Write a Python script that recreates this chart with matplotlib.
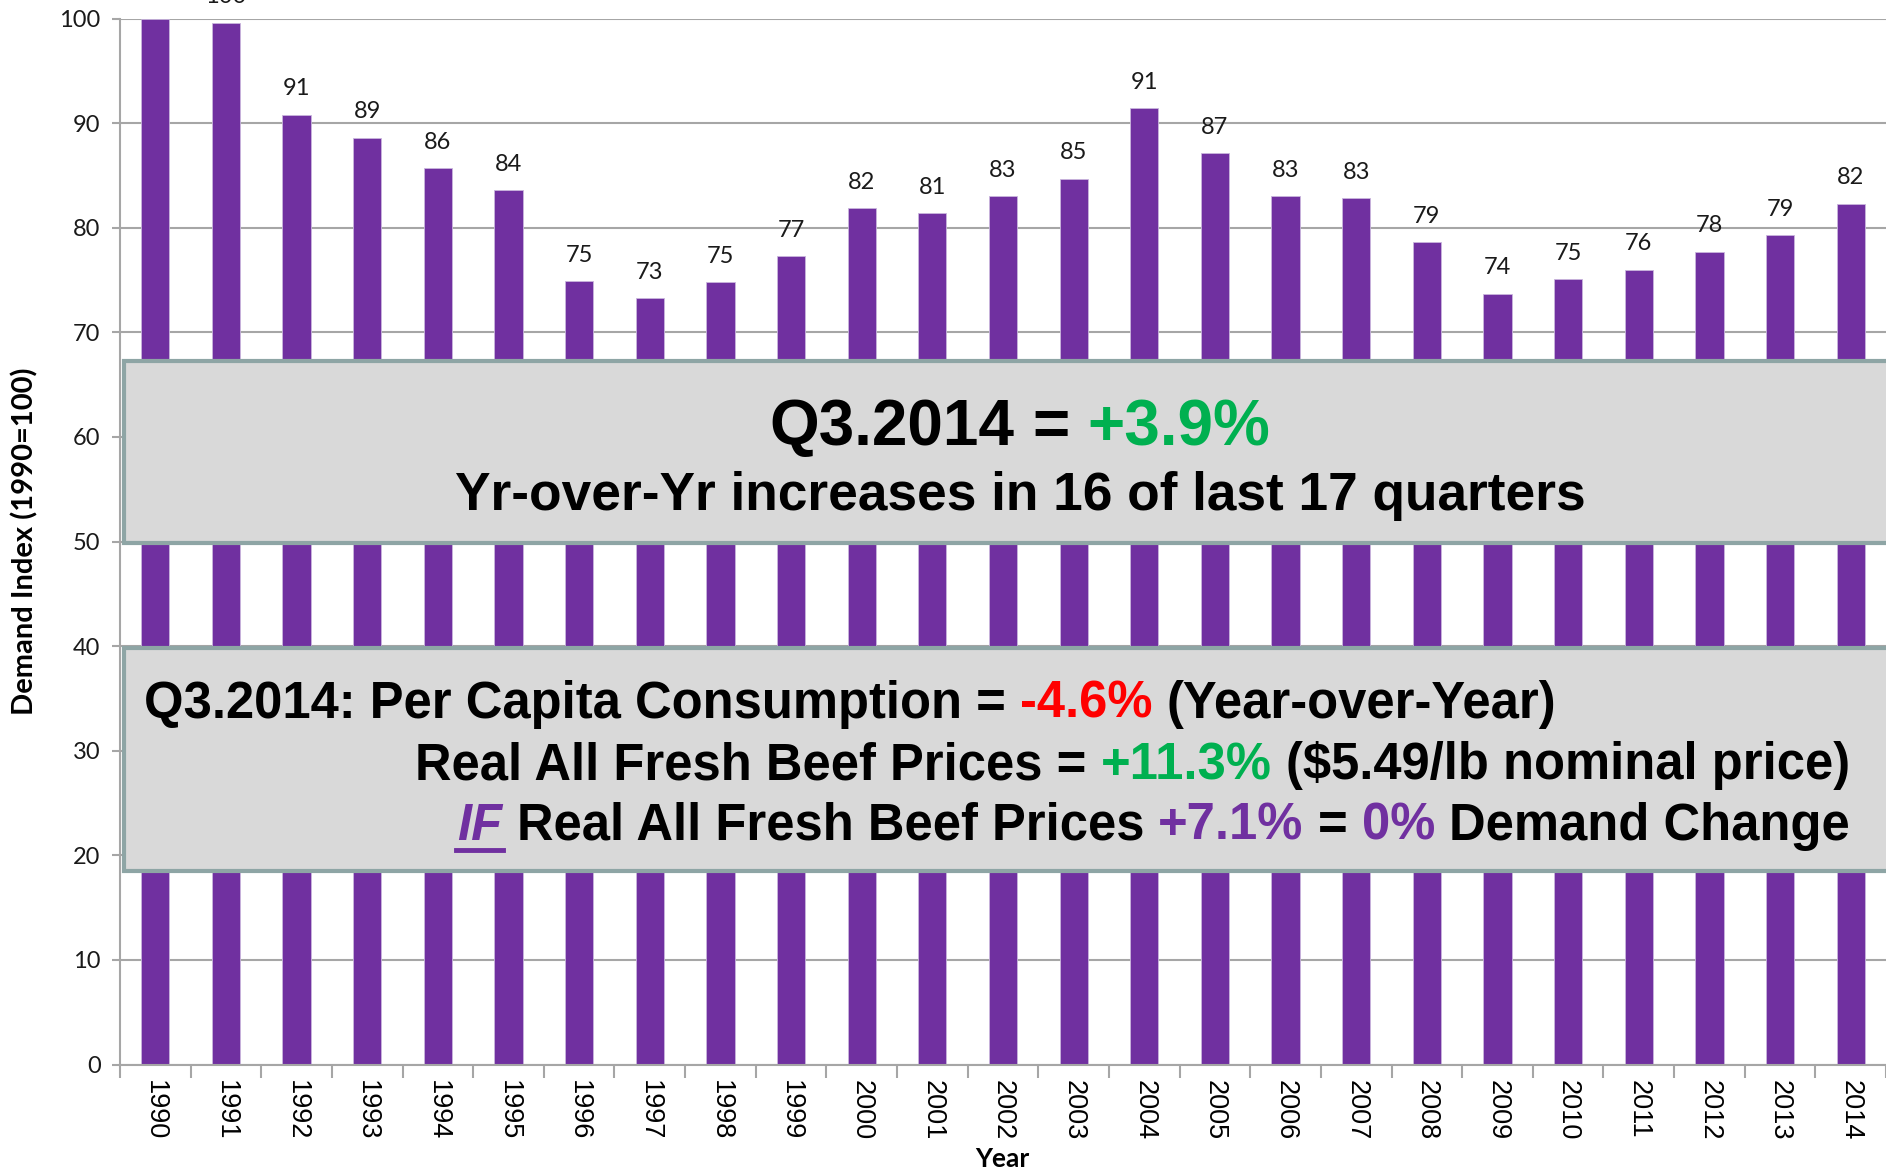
import matplotlib
matplotlib.use("Agg")
import matplotlib.pyplot as plt
import matplotlib.transforms as mtransforms
from matplotlib.patches import Rectangle
from matplotlib.lines import Line2D

years = ['1990', '1991', '1992', '1993', '1994', '1995', '1996', '1997', '1998', '1999',
         '2000', '2001', '2002', '2003', '2004', '2005', '2006', '2007', '2008', '2009',
         '2010', '2011', '2012', '2013', '2014']
demand = [100.0, 99.6, 90.8, 88.6, 85.7, 83.6, 74.9, 73.3, 74.8, 77.3,
          81.9, 81.4, 83.0, 84.7, 91.4, 87.1, 83.0, 82.8, 78.6, 73.7,
          75.1, 76.0, 77.7, 79.3, 82.3]

# y-ranges (index units) covered by the two grey call-out boxes
box_top = (49.9, 67.25)
box_bottom = (18.5, 39.8)

GREEN = '#00B050'
RED = '#FF0000'
PURPLE = '#7030A0'
BOLD_FONT = ['Liberation Sans', 'DejaVu Sans']
CAL_FONT = ['Lato', 'DejaVu Sans']

W, H = 1886, 1173
fig = plt.figure(figsize=(W / 100, H / 100), dpi=100)
ax = fig.add_axes([120 / W, 108.5 / H, 1766 / W, 1046 / H])

x = list(range(len(years)))
bars = ax.bar(x, demand, width=0.4, color=PURPLE, edgecolor='#C9B6DD', linewidth=0.6, zorder=2)
ax.bar_label(bars, labels=['%.0f' % v for v in demand], padding=11, fontsize=17,
             family=CAL_FONT, color='#1a1a1a', clip_on=False)

ax.set_xlim(-0.5, len(years) - 0.5)
ax.set_ylim(0, 100)
ax.set_yticks(range(0, 101, 10))
ax.yaxis.grid(True, color='#A6A6A6', lw=1.5)
ax.set_axisbelow(True)
for s in ['top', 'right']:
    ax.spines[s].set_visible(False)
for s in ['left', 'bottom']:
    ax.spines[s].set_color('#A6A6A6')
    ax.spines[s].set_linewidth(1.5)

ax.set_xticks(x)
ax.set_xticklabels(years, rotation=-90, va='top', ha='center', fontsize=19.5, family=BOLD_FONT)
ax.set_xticks([i - 0.5 for i in range(len(years) + 1)], minor=True)
ax.tick_params(axis='x', which='major', length=0, pad=11)
ax.tick_params(axis='x', which='minor', length=9, color='#A6A6A6', width=1.5)
ax.tick_params(axis='y', length=6, color='#A6A6A6', width=1.5, pad=8, labelsize=17)
for lab in ax.get_yticklabels():
    lab.set_family(CAL_FONT)
    lab.set_color('#1a1a1a')

fig.text(25 / W, 1 - 541 / H, 'Demand Index (1990=100)', rotation=90, ha='center', va='center',
         fontsize=21, fontweight='bold', family=CAL_FONT)
fig.text(1002 / W, 1 - 1167 / H, 'Year', ha='center', va='baseline',
         fontsize=19, fontweight='bold', family=CAL_FONT)

trans = mtransforms.blended_transform_factory(ax.transAxes, ax.transData)
for lo, hi in [box_top, box_bottom]:
    ax.add_patch(Rectangle((0.002, lo), 1.1, hi - lo, transform=trans, facecolor='#D9D9D9',
                           edgecolor='#8EA5A5', lw=3, zorder=5, clip_on=False))

renderer = fig.canvas.get_renderer()


def text_width(s, size, style):
    t = fig.text(0, 0, s, fontsize=size, fontweight='bold', style=style, family=BOLD_FONT)
    w = t.get_window_extent(renderer).width
    t.remove()
    return w


def put_line(xpx, ypx, pieces, size, ha):
    # pieces are joined by single spaces
    space = text_width('a a', size, 'normal') - text_width('aa', size, 'normal')
    widths = [text_width(s, size, st) for s, c, st in pieces]
    total = sum(widths) + space * (len(pieces) - 1)
    if ha == 'center':
        start = xpx - total / 2
    elif ha == 'right':
        start = xpx - total
    else:
        start = xpx
    out = []
    for (s, c, st), w in zip(pieces, widths):
        t = fig.text(start / W, 1 - ypx / H, s, color=c, fontsize=size, fontweight='bold',
                     style=st, family=BOLD_FONT, va='baseline', ha='left', zorder=10)
        out.append((t, start, w))
        start += w + space
    return out


put_line(1020, 445, [('Q3.2014', 'black', 'normal'), ('=', 'black', 'normal'),
                     ('+3.9%', GREEN, 'normal')], 46, 'center')
put_line(1020, 510, [('Yr-over-Yr increases in 16 of last 17 quarters', 'black', 'normal')],
         38.3, 'center')
put_line(144, 718, [('Q3.2014: Per Capita Consumption =', 'black', 'normal'),
                    ('-4.6%', RED, 'normal'), ('(Year-over-Year)', 'black', 'normal')], 36.5, 'left')
put_line(1850, 779, [('Real All Fresh Beef Prices =', 'black', 'normal'),
                     ('+11.3%', GREEN, 'normal'),
                     ('($5.49/lb nominal price)', 'black', 'normal')], 36.5, 'right')
parts = put_line(1850, 840, [('IF', PURPLE, 'italic'), ('Real All Fresh Beef Prices', 'black', 'normal'),
                             ('+7.1%', PURPLE, 'normal'), ('=', 'black', 'normal'),
                             ('0%', PURPLE, 'normal'), ('Demand Change', 'black', 'normal')], 36.5, 'right')
_, x0, w0 = parts[0]
fig.add_artist(Line2D([(x0 - 2) / W, (x0 + w0) / W], [1 - 850 / H, 1 - 850 / H],
                      color=PURPLE, lw=3.5, zorder=10))

fig.savefig('out.png', dpi=100)
